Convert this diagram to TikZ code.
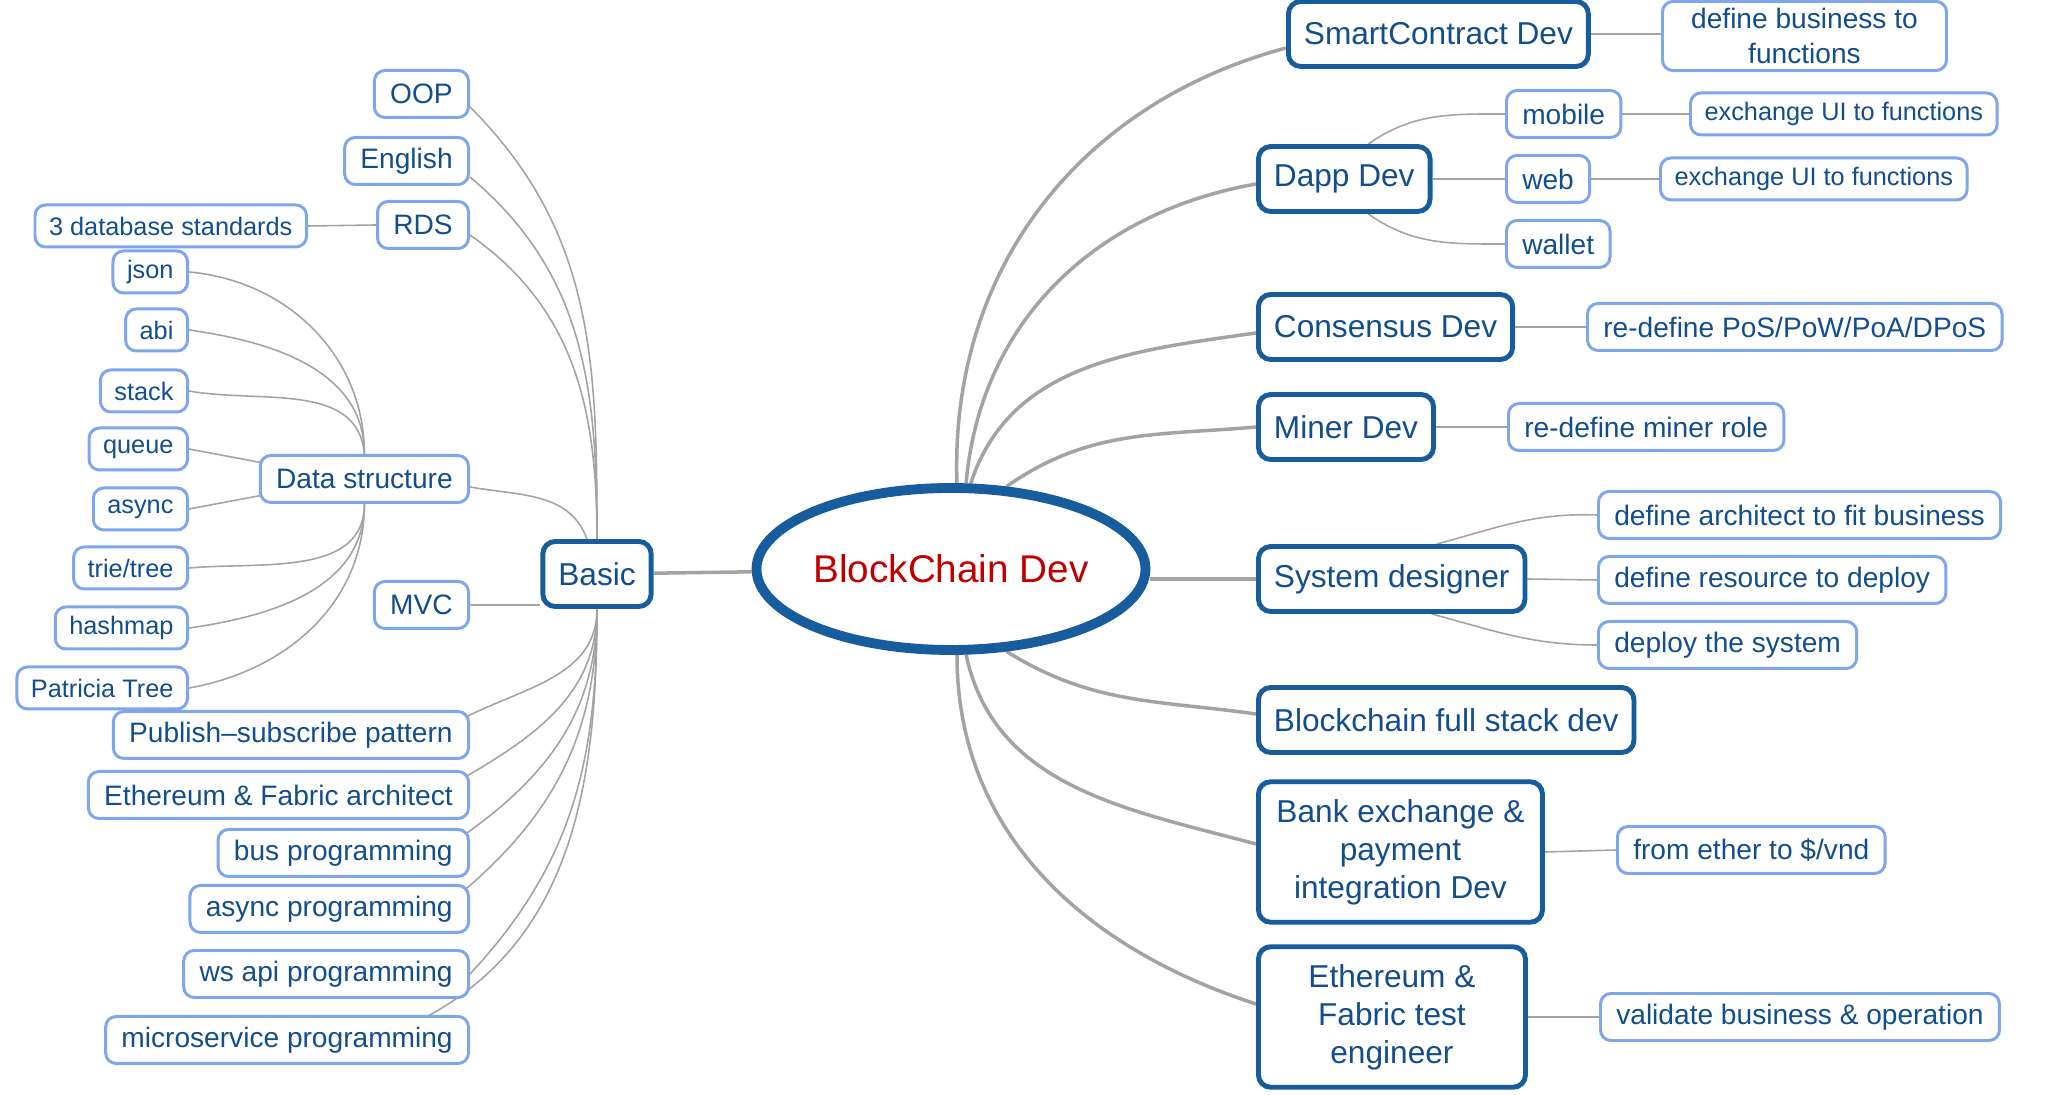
\documentclass[tikz,border=0pt]{standalone}
\usepackage{fontspec}
\setmainfont{Liberation Sans}
\usetikzlibrary{shapes.geometric,backgrounds}
\definecolor{mmdark}{HTML}{175C9C}
\definecolor{mmlight}{HTML}{7EA6EC}
\definecolor{mmtext}{HTML}{134E8C}
\definecolor{mmred}{HTML}{C00000}
\definecolor{mmline}{HTML}{A3A3A3}
\tikzset{
  root/.style={ellipse, draw=mmdark, line width=2.8pt, fill=white, text=mmred,
    font=\fontsize{11}{13}\selectfont, minimum width=3.6cm, minimum height=1.62cm, inner sep=0pt},
  main/.style={draw=mmdark, line width=1.4pt, rounded corners=3.5pt, fill=white, text=mmtext,
    font=\fontsize{9}{10.8}\selectfont, inner xsep=4.4pt, inner ysep=5pt, minimum height=0.65cm, align=center},
  leaf/.style={draw=mmlight, line width=0.85pt, rounded corners=3pt, fill=white, text=mmtext,
    font=\fontsize{8}{9.8}\selectfont, inner xsep=4.5pt, inner ysep=2pt, minimum height=0.47cm, align=center},
  small/.style={leaf, font=\fontsize{7.2}{8.6}\selectfont, inner xsep=4pt, minimum height=0.42cm},
  trunk/.style={draw=mmline, line width=1pt},
  twig/.style={draw=mmline, line width=0.45pt}
}

\begin{document}
\begin{tikzpicture}
  \useasboundingbox (0,0) rectangle (20.48,-10.95);
  \node[root] (root)  at (9.51,-5.69) {BlockChain Dev};
  \node[main] (basic) at (5.97,-5.74) {Basic};
  % left side
  \node[leaf,anchor=east] (oop)     at (4.70,-0.94) {OOP};
  \node[leaf,anchor=east] (english) at (4.70,-1.61) {English};
  \node[leaf,anchor=east] (rds)     at (4.70,-2.25) {RDS};
  \node[leaf,anchor=east] (ds)      at (4.70,-4.79) {Data structure};
  \node[leaf,anchor=east] (mvc)     at (4.70,-6.05) {MVC};
  \node[leaf,anchor=east] (pubsub)  at (4.70,-7.35) {Publish--subscribe pattern};
  \node[leaf,anchor=east] (etharch) at (4.70,-7.95) {Ethereum \& Fabric architect};
  \node[leaf,anchor=east] (bus)     at (4.70,-8.53) {bus programming};
  \node[leaf,anchor=east] (asyncp)  at (4.70,-9.09) {async programming};
  \node[leaf,anchor=east] (wsapi)   at (4.70,-9.74) {ws api programming};
  \node[leaf,anchor=east] (micro)   at (4.70,-10.40) {microservice programming};
  \node[small,anchor=east] (dbstd)    at (3.08,-2.26) {3 database standards};
  \node[small,anchor=east] (json)     at (1.89,-2.72) {json};
  \node[small,anchor=east] (abi)      at (1.89,-3.30) {abi};
  \node[small,anchor=east] (stack)    at (1.89,-3.91) {stack};
  \node[small,anchor=east] (queue)    at (1.89,-4.49) {queue};
  \node[small,anchor=east] (asyncds)  at (1.89,-5.09) {async};
  \node[small,anchor=east] (trie)     at (1.89,-5.68) {trie/tree};
  \node[small,anchor=east] (hashmap)  at (1.89,-6.28) {hashmap};
  \node[small,anchor=east] (patricia) at (1.89,-6.88) {Patricia Tree};
  % right side
  \node[main,anchor=west] (smart) at (12.86,-0.34) {SmartContract Dev};
  \node[main,anchor=west] (dapp)  at (12.56,-1.79) {Dapp Dev};
  \node[main,anchor=west] (cons)  at (12.56,-3.27) {Consensus Dev};
  \node[main,anchor=west] (miner) at (12.56,-4.27) {Miner Dev};
  \node[main,anchor=west] (sysd)  at (12.56,-5.79) {System designer};
  \node[main,anchor=west] (full)  at (12.56,-7.20) {Blockchain full stack dev};
  \node[main,anchor=west,minimum width=2.84cm] (bank)    at (12.56,-8.52) {Bank exchange \&\\payment\\integration Dev};
  \node[main,anchor=west,minimum width=2.67cm] (ethtest) at (12.56,-10.17) {Ethereum \&\\Fabric test\\engineer};
  \node[leaf,anchor=west,minimum width=2.84cm] (bizfn) at (16.61,-0.36) {define business to\\functions};
  \node[leaf,anchor=west]  (mobile) at (15.05,-1.14) {mobile};
  \node[small,anchor=west] (exch1)  at (16.89,-1.14) {exchange UI to functions};
  \node[leaf,anchor=west]  (web)    at (15.05,-1.79) {web};
  \node[small,anchor=west] (exch2)  at (16.59,-1.79) {exchange UI to functions};
  \node[leaf,anchor=west]  (wallet) at (15.05,-2.44) {wallet};
  \node[leaf,anchor=west]  (pos)    at (15.86,-3.27) {re-define PoS/PoW/PoA/DPoS};
  \node[leaf,anchor=west]  (mrole)  at (15.07,-4.27) {re-define miner role};
  \node[leaf,anchor=west]  (arch)   at (15.97,-5.15) {define architect to fit business};
  \node[leaf,anchor=west]  (res)    at (15.97,-5.80) {define resource to deploy};
  \node[leaf,anchor=west]  (deploy) at (15.97,-6.45) {deploy the system};
  \node[leaf,anchor=west]  (ether)  at (16.16,-8.50) {from ether to \$/vnd};
  \node[leaf,anchor=west]  (valid)  at (15.99,-10.17) {validate business \& operation};
  \begin{pgfonlayer}{background}
   \draw[trunk] (root) -- (basic);
   \draw[trunk] (root.86) to[out=92,in=195] ([yshift=-1.4mm]smart.west);
   \draw[trunk] (root.80) to[out=85,in=190] ([yshift=-0.5mm]dapp.west);
   \draw[trunk] (root.77) to[out=72,in=188] ([yshift=-0.6mm]cons.west);
   \draw[trunk] (root.56) to[out=35,in=185] (miner.west);
   \draw[trunk] (sysd.west -| root.east) -- (sysd.west);
   \draw[trunk] (root.-56) to[out=-32,in=172] ([yshift=0.6mm]full.west);
   \draw[trunk] (root.-80) to[out=-78,in=165] ([yshift=0.8mm]bank.west);
   \draw[trunk] (root.-86) to[out=-90,in=162] ([yshift=1.3mm]ethtest.west);
   \draw[twig] (basic.north) to[out=90,in=-45] ([yshift=-1.3mm]oop.east);
   \draw[twig] (basic.north) to[out=90,in=-40] ([yshift=-1.6mm]english.east);
   \draw[twig] (basic.north) to[out=90,in=-35] ([yshift=-1mm]rds.east);
   \draw[twig] ([xshift=-1mm]basic.north) to[out=110,in=-10] ([yshift=-0.8mm]ds.east);
   \draw[twig] (mvc.east) -- (mvc.east -| basic.west);
   \draw[twig] (basic.south) to[out=-90,in=28] ([xshift=-1mm,yshift=-1mm]pubsub.north east);
   \draw[twig] (basic.south) to[out=-90,in=30] ([xshift=-1mm,yshift=-1mm]etharch.north east);
   \draw[twig] (basic.south) to[out=-90,in=35] ([xshift=-1mm,yshift=-1mm]bus.north east);
   \draw[twig] (basic.south) to[out=-90,in=40] ([xshift=-1mm,yshift=-1mm]asyncp.north east);
   \draw[twig] (basic.south) to[out=-90,in=47] (wsapi.east);
   \draw[twig] (basic.south) to[out=-90,in=25] ([xshift=-6mm,yshift=-1mm]micro.north east);
   \draw[twig] (rds.west) -- (dbstd.east);
   \draw[twig] (ds.north) to[out=90,in=-5] (json.east);
   \draw[twig] (ds.north) to[out=90,in=-8] (abi.east);
   \draw[twig] (ds.north) to[out=95,in=-10] (stack.east);
   \draw[twig] (queue.east) -- ([xshift=1mm,yshift=-1mm]ds.north west);
   \draw[twig] (asyncds.east) -- ([xshift=1mm,yshift=1mm]ds.south west);
   \draw[twig] (ds.south) to[out=-90,in=5] (trie.east);
   \draw[twig] (ds.south) to[out=-90,in=8] (hashmap.east);
   \draw[twig] (ds.south) to[out=-90,in=10] (patricia.east);
   \draw[twig] (smart.east) -- (smart.east -| bizfn.west);
   \draw[twig] ([xshift=2.4mm]dapp.north) to[out=35,in=180] (mobile.west);
   \draw[twig] (dapp.east) -- (web.west);
   \draw[twig] ([xshift=2.4mm]dapp.south) to[out=-35,in=180] (wallet.west);
   \draw[twig] (mobile.east) -- (exch1.west);
   \draw[twig] (web.east) -- (exch2.west);
   \draw[twig] (cons.east) -- (pos.west);
   \draw[twig] (miner.east) -- (mrole.west);
   \draw[twig] ([xshift=4.5mm]sysd.north) to[out=15,in=178] (arch.west);
   \draw[twig] (sysd.east) -- (res.west);
   \draw[twig] ([xshift=4mm]sysd.south) to[out=-15,in=180] (deploy.west);
   \draw[twig] (bank.east) -- (ether.west);
   \draw[twig] (ethtest.east) -- (valid.west);
  \end{pgfonlayer}
\end{tikzpicture}
\end{document}
